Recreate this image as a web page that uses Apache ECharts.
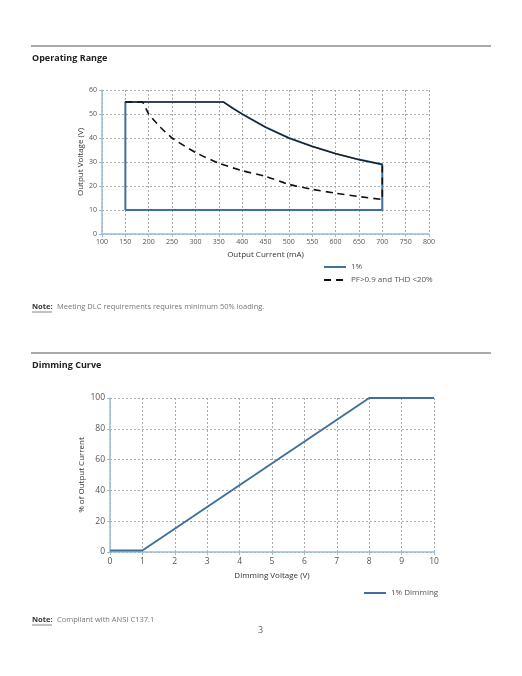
<!DOCTYPE html>
<html>
<head>
<meta charset="utf-8">
<script src="https://cdn.jsdelivr.net/npm/echarts@6/dist/echarts.min.js"></script>
<style>
  html, body { margin: 0; padding: 0; background: #fff; }
  #chart { width: 522px; height: 676px; }
</style>
</head>
<body>
<div id="chart"></div>
<script>
// Operating range data
const rangeBox = [[150, 10], [150, 55], [360, 55], [400, 50], [450, 44.5], [500, 40], [550, 36.5], [600, 33.5], [650, 31], [700, 29], [700, 10], [150, 10]];
const rangeCurve = [[150, 55], [360, 55], [380, 52.3], [400, 50], [450, 44.5], [500, 40], [550, 36.5], [600, 33.5], [650, 31], [700, 29]];
const pfCurve = [[150, 55], [185, 55], [200, 50], [225, 44.5], [250, 40], [300, 34], [350, 29.5], [400, 26.4], [450, 24], [500, 20.7], [550, 18.6], [600, 17], [650, 15.6], [700, 14.4], [700, 29]];

// Dimming curve data
const dimming = [[0, 1], [1, 1], [8, 100], [10, 100]];

const blue = "#3f719f";
const axisBlue = "#9dbbd6";
const labelColor = "#555";
const font = "Open Sans";

const chart = echarts.init(document.getElementById("chart"));

const axisCommon = {
  axisLine: { show: true, lineStyle: { color: axisBlue, width: 1.5 } },
  axisTick: { show: true, length: 3, lineStyle: { color: axisBlue } },
  splitLine: { show: true, lineStyle: { color: "#aaa", type: [2, 2], width: 1 } },
  nameLocation: "middle",
  nameMoveOverlap: false,
  nameTextStyle: { color: "#333", fontSize: 8, fontFamily: font },
};

const pageText = (left, top, text, style) => ({
  type: "text", left, top,
  style: Object.assign({ text, fill: "#333", font: `10px ${font}` }, style || {}),
});

chart.setOption({
  animation: false,
  textStyle: { fontFamily: font },
  grid: [
    { left: 102, right: 93, top: 90, height: 144 },
    { left: 110, right: 88, top: 398, height: 154 },
  ],
  xAxis: [
    Object.assign({}, axisCommon, {
      gridIndex: 0, type: "value", min: 100, max: 800, interval: 50,
      name: "Output Current (mA)", nameGap: 17,
      axisLabel: { color: labelColor, fontSize: 7, margin: 4 },
    }),
    Object.assign({}, axisCommon, {
      gridIndex: 1, type: "value", min: 0, max: 10, interval: 1,
      name: "Dimming Voltage (V)", nameGap: 20,
      axisLabel: { color: labelColor, fontSize: 8.5, margin: 5 },
    }),
  ],
  yAxis: [
    Object.assign({}, axisCommon, {
      gridIndex: 0, type: "value", min: 0, max: 60, interval: 10,
      name: "Output Voltage (V)", nameGap: 17, nameRotate: 90,
      axisLabel: { color: labelColor, fontSize: 7, margin: 5 },
    }),
    Object.assign({}, axisCommon, {
      gridIndex: 1, type: "value", min: 0, max: 100, interval: 20,
      name: "% of Output Current", nameGap: 24, nameRotate: 90,
      axisLabel: { color: labelColor, fontSize: 8.5, margin: 5 },
    }),
  ],
  legend: [
    {
      id: "rangeLegend",
      data: ["1%", "PF>0.9 and THD <20%"], orient: "vertical",
      left: 318, top: 258, itemWidth: 22, itemHeight: 8, itemGap: 5,
      itemStyle: { opacity: 0 },
      textStyle: { fontSize: 8, color: labelColor, fontFamily: font },
    },
    {
      id: "dimLegend",
      data: ["1% Dimming"], left: 358, top: 584, itemWidth: 22, itemHeight: 8,
      itemStyle: { opacity: 0 },
      textStyle: { fontSize: 8, color: labelColor, fontFamily: font },
    },
  ],
  series: [
    {
      name: "1%", type: "line", xAxisIndex: 0, yAxisIndex: 0, data: rangeBox,
      symbol: "none", lineStyle: { color: blue, width: 2 }, itemStyle: { color: blue },
    },
    {
      name: "curve", type: "line", xAxisIndex: 0, yAxisIndex: 0, data: rangeCurve,
      symbol: "none", lineStyle: { color: "#1a1a1a", width: 1.2 },
    },
    {
      name: "PF>0.9 and THD <20%", type: "line", xAxisIndex: 0, yAxisIndex: 0, data: pfCurve,
      smooth: 0.2, symbol: "none", lineStyle: { color: "#111", width: 1.6, type: [7, 5] }, itemStyle: { color: "#111" },
    },
    {
      name: "1% Dimming", type: "line", xAxisIndex: 1, yAxisIndex: 1, data: dimming,
      symbol: "none", lineStyle: { color: blue, width: 2 }, itemStyle: { color: blue },
    },
  ],
  graphic: [
    { type: "line", shape: { x1: 31, y1: 46, x2: 491, y2: 46 }, style: { stroke: "#555", lineWidth: 1 } },
    pageText(32, 54, "Operating Range", { font: `bold 9px ${font}`, fill: "#222" }),
    pageText(32, 303, "Note:", { font: `bold 7.5px ${font}`, fill: "#333" }),
    { type: "line", shape: { x1: 32, y1: 312, x2: 52, y2: 312 }, style: { stroke: "#333", lineWidth: 0.6 } },
    pageText(57, 303, "Meeting DLC requirements requires minimum 50% loading.", { font: `7.5px ${font}`, fill: "#777" }),
    { type: "line", shape: { x1: 31, y1: 353, x2: 491, y2: 353 }, style: { stroke: "#555", lineWidth: 1 } },
    pageText(32, 361, "Dimming Curve", { font: `bold 9px ${font}`, fill: "#222" }),
    pageText(32, 616, "Note:", { font: `bold 7.5px ${font}`, fill: "#333" }),
    { type: "line", shape: { x1: 32, y1: 625, x2: 52, y2: 625 }, style: { stroke: "#333", lineWidth: 0.6 } },
    pageText(57, 616, "Compliant with ANSI C137.1", { font: `7.5px ${font}`, fill: "#777" }),
    pageText(258, 626, "3", { font: `9px ${font}`, fill: "#666" }),
  ],
});
</script>
</body>
</html>
